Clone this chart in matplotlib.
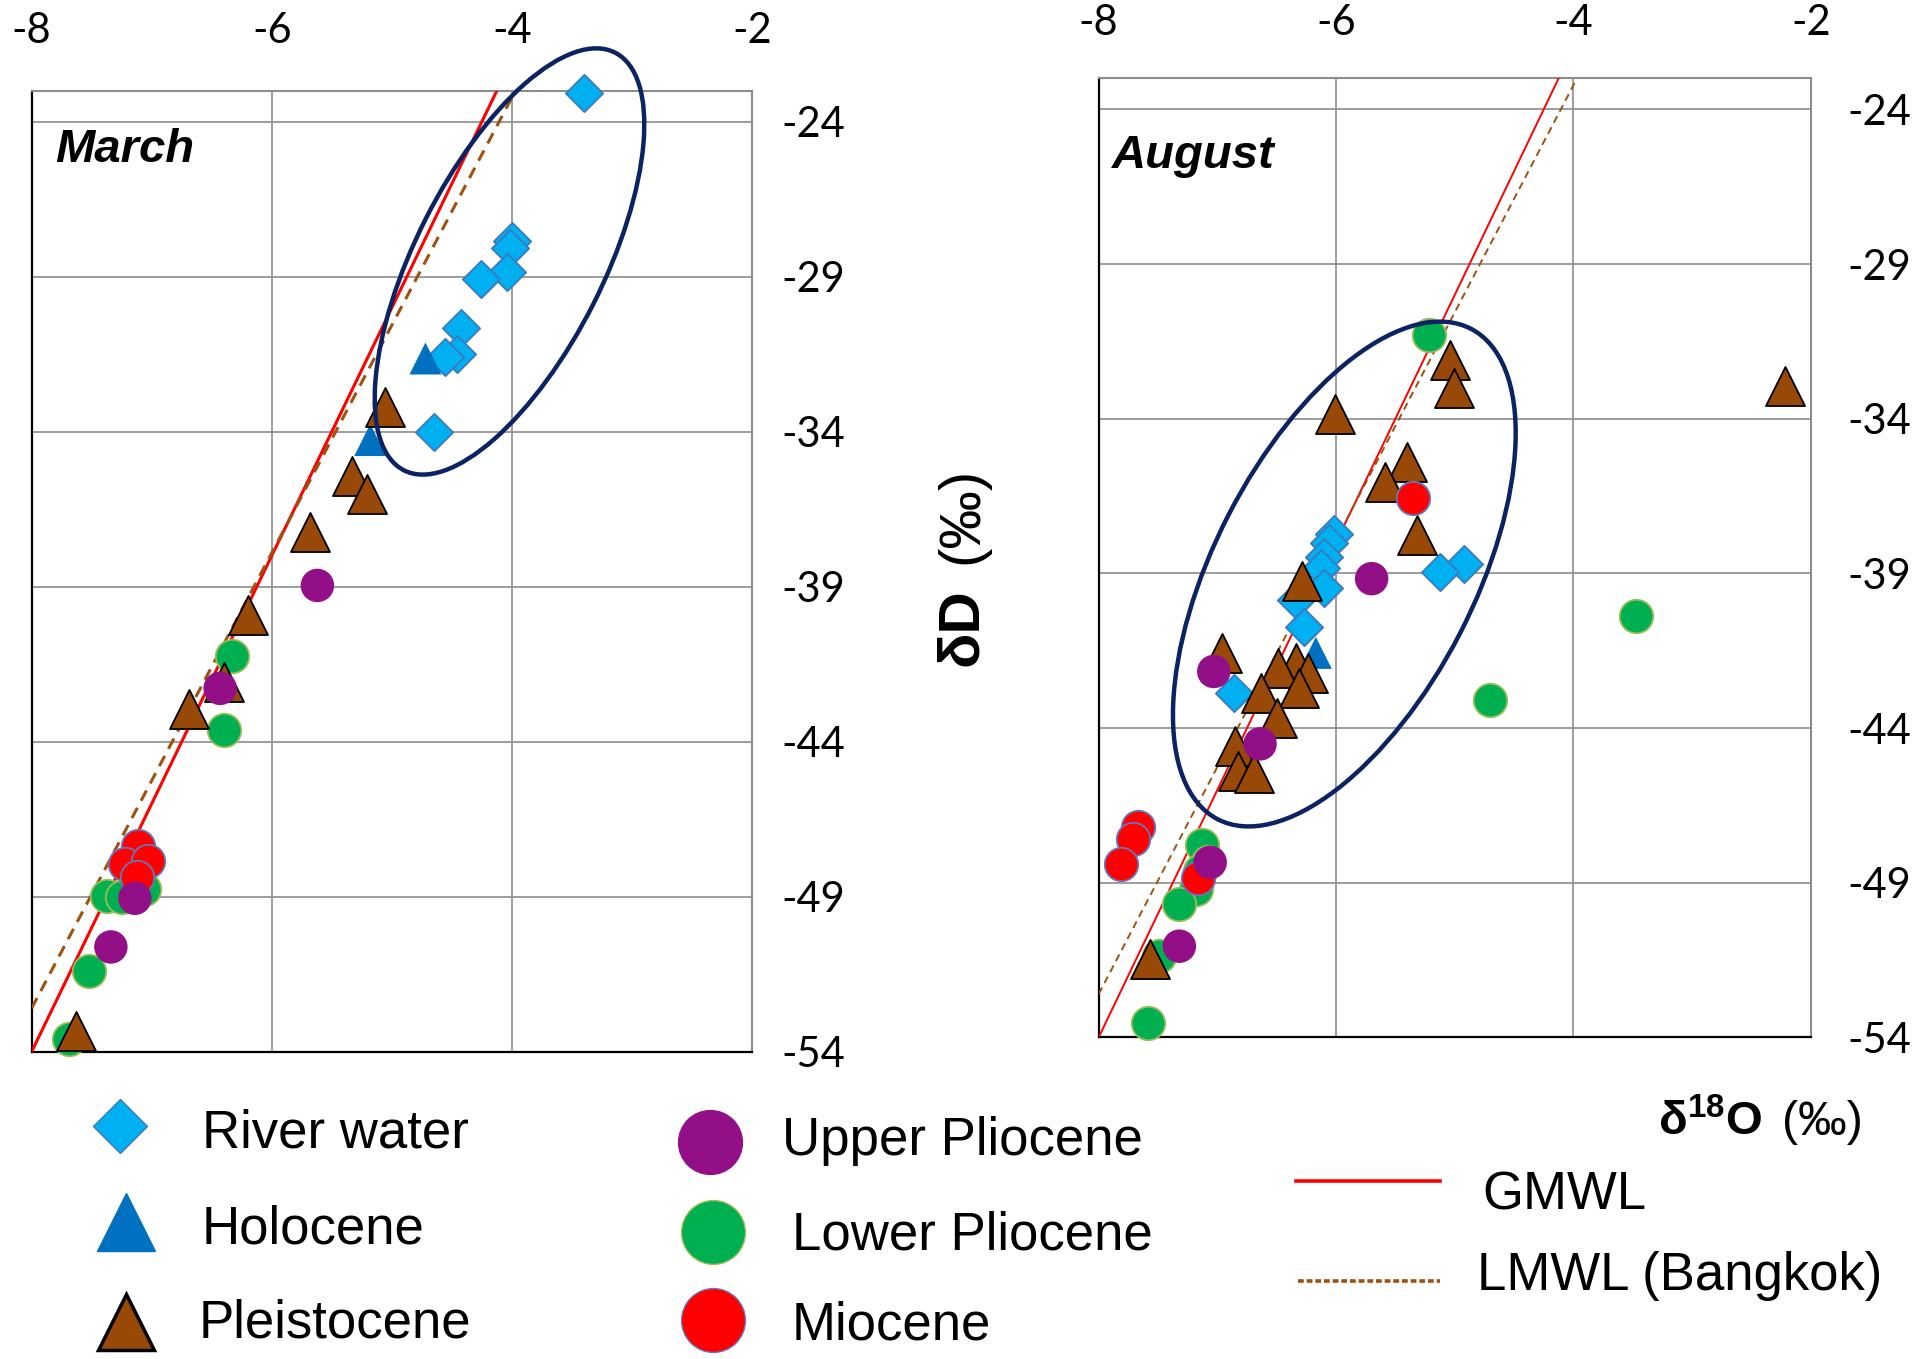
import matplotlib
matplotlib.use("Agg")
import matplotlib.pyplot as plt
from matplotlib.patches import Ellipse
from matplotlib.transforms import IdentityTransform

plt.rcParams['font.family'] = ['Liberation Sans', 'DejaVu Sans']
plt.rcParams['axes.unicode_minus'] = False
plt.rcParams['mathtext.fontset'] = 'custom'
plt.rcParams['mathtext.rm'] = 'Liberation Sans'
plt.rcParams['mathtext.bf'] = 'Liberation Sans:bold'

# axis ticks
x_ticks = [-8, -6, -4, -2]
x_labels = ['-8', '-6', '-4', '-2']
y_ticks = [-54, -49, -44, -39, -34, -29, -24]
y_labels = ['-54', '-49', '-44', '-39', '-34', '-29', '-24']

# meteoric water lines (end points)
gmwl_x = [-8.0, -4.125]
gmwl_y = [-54.0, -23.0]
lmwl_x = [-8.0, -3.97]
lmwl_y = [-52.6, -23.0]

# March samples (d18O, dD)
river_mar_x = [-3.40, -4.00, -4.02, -4.04, -4.26, -4.42, -4.46, -4.56, -4.65]
river_mar_y = [-23.07, -27.85, -28.07, -28.84, -29.09, -30.67, -31.49, -31.58, -34.00]
holo_mar_x = [-4.72, -5.18]
holo_mar_y = [-31.64, -34.27]
pleis_mar_x = [-5.06, -5.33, -5.21, -5.68, -6.20, -6.40, -6.69, -7.63]
pleis_mar_y = [-33.19, -35.44, -36.00, -37.23, -39.90, -42.09, -42.96, -53.32]
upper_mar_x = [-5.62, -6.43, -7.14, -7.34]
upper_mar_y = [-38.96, -42.28, -49.05, -50.62]
lower_mar_x = [-6.33, -6.40, -7.37, -7.25, -7.06, -7.52, -7.69]
lower_mar_y = [-41.24, -43.63, -48.97, -49.00, -48.76, -51.41, -53.60]
mio_mar_x = [-7.11, -7.22, -7.03, -7.12]
mio_mar_y = [-47.38, -47.93, -47.86, -48.35]

# August samples (d18O, dD)
river_aug_x = [-6.02, -6.06, -6.10, -6.13, -4.92, -5.12, -6.10, -6.34, -6.27, -6.86]
river_aug_y = [-37.73, -38.02, -38.48, -38.83, -38.71, -38.94, -39.46, -39.87, -40.73, -42.86]
holo_aug_x = [-6.17]
holo_aug_y = [-41.57]
pleis_aug_x = [-5.04, -5.01, -2.22, -6.01, -5.40, -5.59, -5.32, -6.29, -6.96, -6.34,
               -6.24, -6.49, -6.63, -6.31, -6.50, -6.85, -6.83, -6.69, -7.57]
pleis_aug_y = [-32.11, -33.01, -32.94, -33.86, -35.40, -36.06, -37.75, -39.23, -41.57, -41.88,
               -42.23, -42.06, -42.86, -42.69, -43.66, -44.59, -45.40, -45.46, -51.46]
upper_aug_x = [-5.70, -7.03, -6.64, -7.06, -7.32]
upper_aug_y = [-39.17, -42.17, -44.51, -48.34, -51.05]
lower_aug_x = [-5.22, -3.47, -4.70, -7.13, -7.08, -7.15, -7.18, -7.32, -7.49, -7.58]
lower_aug_y = [-31.28, -40.38, -43.09, -47.77, -48.34, -48.63, -49.21, -49.69, -51.38, -53.53]
mio_aug_x = [-5.35, -7.67, -7.71, -7.81, -7.16]
mio_aug_y = [-36.56, -47.19, -47.59, -48.40, -48.86]

# ellipses: centre in data units, size (px) and angle
ell_mar = (-4.02, -28.51, 468, 188, 63.2)
ell_aug = (-5.93, -39.02, 552, 260, 62.7)

groups = ['River water', 'Holocene', 'Pleistocene', 'Upper Pliocene', 'Lower Pliocene', 'Miocene']
colors = ['#00B0F0', '#0070C0', '#984807', '#920F87', '#00B050', '#FF0000']
edges = ['#3C78C0', 'none', 'black', 'none', '#9BBB59', '#6677BB']
markers = ['D', '^', '^', 'o', 'o', 'o']
sizes = [360, 530, 790, 580, 580, 580]
zorders = [4, 4, 5, 7, 4, 6]

fig = plt.figure(figsize=(19.17, 13.59), dpi=100)
ax1 = fig.add_axes([0.0165, 0.2261, 0.3758, 0.7072])
ax2 = fig.add_axes([0.5731, 0.2366, 0.3715, 0.7057])

panels = [
    (ax1, 'March', [(river_mar_x, river_mar_y), (holo_mar_x, holo_mar_y), (pleis_mar_x, pleis_mar_y),
                    (upper_mar_x, upper_mar_y), (lower_mar_x, lower_mar_y), (mio_mar_x, mio_mar_y)],
     ell_mar, 2.2, 21, 29, (0.0325, 0.926)),
    (ax2, 'August', [(river_aug_x, river_aug_y), (holo_aug_x, holo_aug_y), (pleis_aug_x, pleis_aug_y),
                     (upper_aug_x, upper_aug_y), (lower_aug_x, lower_aug_y), (mio_aug_x, mio_aug_y)],
     ell_aug, 1.4, 26, 26, (0.0187, 0.907)),
]

for ax, month, series, ell, lw, ypad, xpad, tpos in panels:
    ax.set_xlim(-8, -2)
    ax.set_ylim(-54, -23)
    ax.xaxis.tick_top()
    ax.yaxis.tick_right()
    ax.set_xticks(x_ticks)
    ax.set_xticklabels(x_labels, fontfamily=['Lato', 'DejaVu Sans'], fontsize=30)
    ax.set_yticks(y_ticks)
    ax.set_yticklabels(y_labels, fontfamily=['Lato', 'DejaVu Sans'], fontsize=30)
    ax.tick_params(axis='y', length=0, pad=ypad)
    ax.tick_params(axis='x', length=0, pad=xpad)
    ax.grid(True, color='#8C8C8C', lw=1.2)
    ax.set_axisbelow(True)
    for s in ['top', 'right']:
        ax.spines[s].set_color('#8C8C8C')
        ax.spines[s].set_linewidth(1.5)
    for s in ['left', 'bottom']:
        ax.spines[s].set_color('black')
        ax.spines[s].set_linewidth(1.6)

    ax.plot(gmwl_x, gmwl_y, color='#FF0000', lw=lw, zorder=3)
    ax.plot(lmwl_x, lmwl_y, color='#A0500F', lw=lw, ls=(0, (3.8, 2.6)), zorder=3)

    for (xs, ys), c, ec, m, sz, z in zip(series, colors, edges, markers, sizes, zorders):
        ax.scatter(xs, ys, s=sz, c=c, marker=m, edgecolors=ec, linewidths=1.3, zorder=z, clip_on=False)

    ax.text(tpos[0], tpos[1], month, transform=ax.transAxes, fontsize=34,
            fontweight='bold', fontstyle='italic', va='baseline', ha='left')

    cx, cy = ax.transData.transform((ell[0], ell[1]))
    e = Ellipse((cx, cy), ell[2], ell[3], angle=ell[4], transform=IdentityTransform(),
                fill=False, edgecolor='#0B2363', lw=3.2, zorder=8)
    fig.patches.append(e)
    e.set_figure(fig)

# axis titles
fig.text(962 / 1917, 1 - 627 / 1359, 'δD', rotation=90, fontsize=42, fontweight='bold',
         ha='center', va='center')
fig.text(962 / 1917, 1 - 515 / 1359, '(‰)', rotation=90, fontsize=42,
         ha='center', va='center')
fig.text(1658 / 1917, 1 - 1135 / 1359, r'$\mathbf{δ^{18}O}$', fontsize=34,
         ha='left', va='baseline')
fig.text(1782 / 1917, 1 - 1135 / 1359, '(‰)', fontsize=35, ha='left', va='baseline')

# legend drawn in pixel space
leg = fig.add_axes([0, 0, 1, 1], zorder=-1)
leg.set_xlim(0, 1917)
leg.set_ylim(1359, 0)
leg.axis('off')
key_x = [120, 126, 126, 710, 713, 713]
key_y = [1126, 1222, 1322, 1142, 1232, 1320]
key_sizes = [27, 42, 40, 46, 46, 46]
label_x = [202, 202, 199, 782, 792, 792]
label_base = [1148, 1243, 1338, 1155, 1250, 1340]
for i, g in enumerate(groups):
    leg.plot(key_x[i], key_y[i], marker=markers[i], ms=key_sizes[i], color=colors[i],
             mec=edges[i] if edges[i] != 'none' else colors[i], mew=2.5 if i == 2 else 1)
    leg.text(label_x[i], label_base[i], g, fontsize=38, va='baseline', ha='left')

line_names = ['GMWL', 'LMWL (Bangkok)']
leg.plot([1296, 1440], [1181, 1181], color='#FF0000', lw=2.6)
leg.plot([1298, 1440], [1281, 1281], color='#A0500F', lw=2.6, ls=(0, (1.6, 0.8)))
leg.text(1482, 1210, line_names[0], fontsize=38, va='baseline', ha='left')
leg.text(1477, 1290, line_names[1], fontsize=38, va='baseline', ha='left')

fig.savefig('out.png', dpi=100)
